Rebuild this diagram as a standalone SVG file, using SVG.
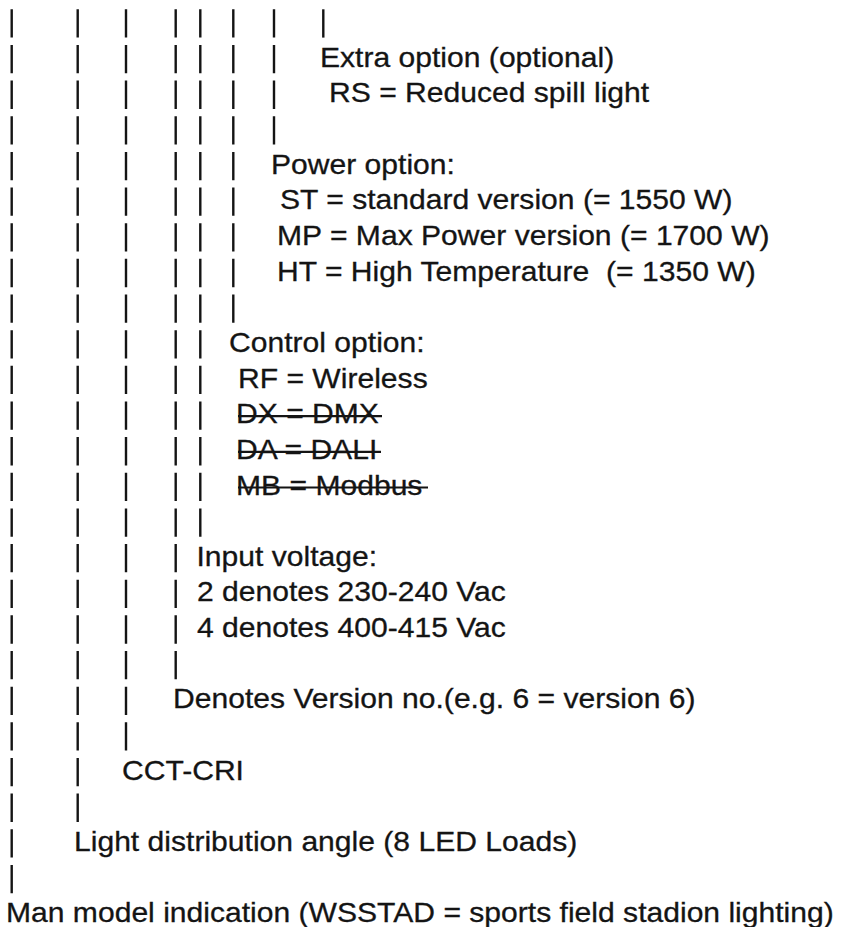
<svg xmlns="http://www.w3.org/2000/svg" width="850" height="927" viewBox="0 0 850 927">
<style>
.t{font-family:"Liberation Sans",Arial,sans-serif;font-size:28px;fill:#141414;stroke:#141414;stroke-width:0.3;white-space:pre}
.bar{stroke:#141414;stroke-width:2.4;stroke-dasharray:28.3 7.35;fill:none}
.strike{stroke:#141414;stroke-width:2.2}
</style>
<rect width="850" height="927" fill="#ffffff"/>
<g id="connectors">
<line class="bar" x1="11.7" y1="9.3" x2="11.7" y2="893.2"/>
<line class="bar" x1="77.7" y1="9.3" x2="77.7" y2="822"/>
<line class="bar" x1="126" y1="9.3" x2="126" y2="750.6"/>
<line class="bar" x1="175.7" y1="9.3" x2="175.7" y2="679.3"/>
<line class="bar" x1="200.3" y1="9.3" x2="200.3" y2="536.7"/>
<line class="bar" x1="233.3" y1="9.3" x2="233.3" y2="322.8"/>
<line class="bar" x1="274" y1="9.3" x2="274" y2="144.6"/>
<line class="bar" x1="323.3" y1="9.3" x2="323.3" y2="37.6"/>
</g>
<g id="extra-option">
<text class="t" transform="translate(320,66.6) scale(1.075,1)">Extra option (optional)</text>
<text class="t" transform="translate(329,102.3) scale(1.075,1)">RS = Reduced spill light</text>
</g>
<g id="power-option">
<text class="t" transform="translate(271,173.6) scale(1.075,1)">Power option:</text>
<text class="t" transform="translate(280,209.3) scale(1.075,1)">ST = standard version (= 1550 W)</text>
<text class="t" transform="translate(277,244.9) scale(1.075,1)">MP = Max Power version (= 1700 W)</text>
<text class="t" transform="translate(277,280.6) scale(1.075,1)">HT = High Temperature  (= 1350 W)</text>
</g>
<g id="control-option">
<text class="t" transform="translate(229,351.9) scale(1.075,1)">Control option:</text>
<text class="t" transform="translate(238,387.5) scale(1.075,1)">RF = Wireless</text>
<text class="t" transform="translate(236,423.2) scale(1.075,1)">DX = DMX</text>
<text class="t" transform="translate(236,458.8) scale(1.075,1)">DA = DALI</text>
<text class="t" transform="translate(236,494.5) scale(1.075,1)">MB = Modbus</text>
<line class="strike" x1="238" y1="416.2" x2="382" y2="416.2"/>
<line class="strike" x1="238" y1="451.8" x2="381" y2="451.8"/>
<line class="strike" x1="238" y1="487.5" x2="428" y2="487.5"/>
</g>
<g id="input-voltage">
<text class="t" transform="translate(196.5,565.8) scale(1.075,1)">Input voltage:</text>
<text class="t" transform="translate(197,601.4) scale(1.075,1)">2 denotes 230-240 Vac</text>
<text class="t" transform="translate(197,637.1) scale(1.075,1)">4 denotes 400-415 Vac</text>
</g>
<g id="version">
<text class="t" transform="translate(173,708.4) scale(1.075,1)">Denotes Version no.(e.g. 6 = version 6)</text>
</g>
<g id="cct-cri">
<text class="t" transform="translate(122,779.7) scale(1.075,1)">CCT-CRI</text>
</g>
<g id="light-distribution">
<text class="t" transform="translate(74,851) scale(1.075,1)">Light distribution angle (8 LED Loads)</text>
</g>
<g id="main-model">
<text class="t" transform="translate(6,922.3) scale(1.075,1)">Man model indication (WSSTAD = sports field stadion lighting)</text>
</g>
</svg>
